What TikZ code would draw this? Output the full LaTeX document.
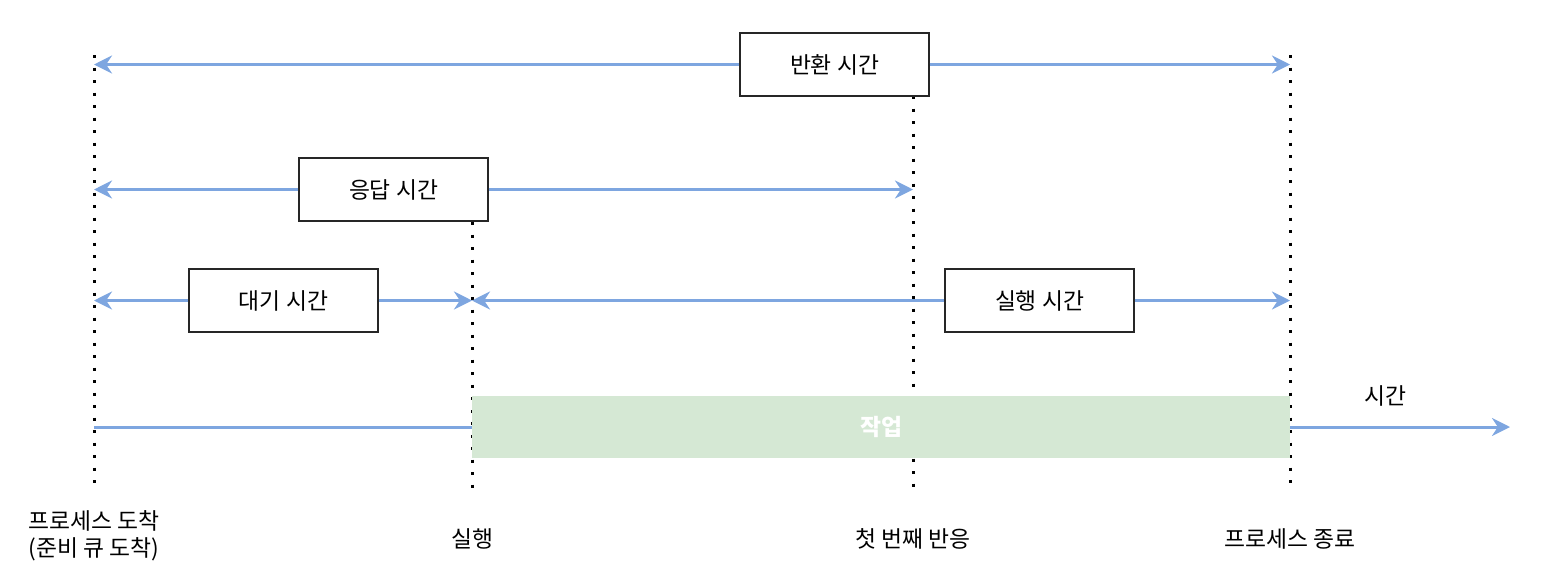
\documentclass[tikz,border=0pt]{standalone}
\usepackage{fontspec}
\setmainfont{Noto Sans CJK KR}
\usetikzlibrary{arrows.meta}
\definecolor{lineblue}{HTML}{7EA6E0}
\definecolor{jobgreen}{HTML}{D5E8D4}

\begin{document}
\begin{tikzpicture}[x=0.5pt,y=-0.5pt,
	font=\fontsize{11.4}{13.5}\selectfont,
	timebox/.style={draw=black!85,line width=0.6pt,fill=white,minimum width=94.5pt,minimum height=31.5pt,inner sep=0pt},
	span/.style={lineblue,line width=1.5pt},
	tip/.style={-{Stealth[length=9pt,width=9pt]}},
	dotline/.style={line width=1.5pt,dash pattern=on 1.5pt off 4.75pt}]
		\useasboundingbox (0,0) rectangle (1546,574);
		% time marks
		\coordinate (a1) at (94,55);   \coordinate (a2) at (94,490);
		\coordinate (r1) at (472,222); \coordinate (r2) at (472,490);
		\coordinate (f1) at (913,96);  \coordinate (f2) at (913,490);
		\coordinate (e1) at (1290,55); \coordinate (e2) at (1290,490);
		\foreach \m in {a,r,f,e}
		\draw[dotline] (\m1) -- (\m2);
		% boxes
		\node[timebox] (tat) at (834.5,64.5) {반환 시간};
		\node[timebox] (resp) at (393.5,189.5) {응답 시간};
		\node[timebox] (wait) at (283.5,300.5) {대기 시간};
		\node[timebox] (exec) at (1039.5,300.5) {실행 시간};
		\node[fill=jobgreen,minimum width=409pt,minimum height=31pt,inner sep=0pt,text=white,font=\fontsize{11.4}{13.5}\selectfont\bfseries] (job) at (881,427) {작업};
		% spans
		\draw[span,tip] (tat.west) -- (a1 |- tat.west);
		\draw[span,tip] (tat.east) -- (e1 |- tat.east);
		\draw[span,tip] (resp.west) -- (a1 |- resp.west);
		\draw[span,tip] (resp.east) -- (f1 |- resp.east);
		\draw[span,tip] (wait.west) -- (a1 |- wait.west);
		\draw[span,tip] (wait.east) -- (r1 |- wait.east);
		\draw[span,tip] (exec.west) -- (r1 |- exec.west);
		\draw[span,tip] (exec.east) -- (e1 |- exec.east);
		% time axis
		\coordinate (tend) at (1510,427);
		\draw[span] (a2 |- job.west) -- (job.west);
		\draw[span,tip] (job.east) -- (tend);
		\node (tlabel) at (1385,396) {시간};
		% labels
		\node[align=center] (larr) at (94,536) {프로세스 도착\\(준비 큐 도착)};
		\node (lrun) at (472,539) {실행};
		\node (lfirst) at (913,539) {첫 번째 반응};
		\node (lend) at (1290,539) {프로세스 종료};
	\end{tikzpicture}
\end{document}
